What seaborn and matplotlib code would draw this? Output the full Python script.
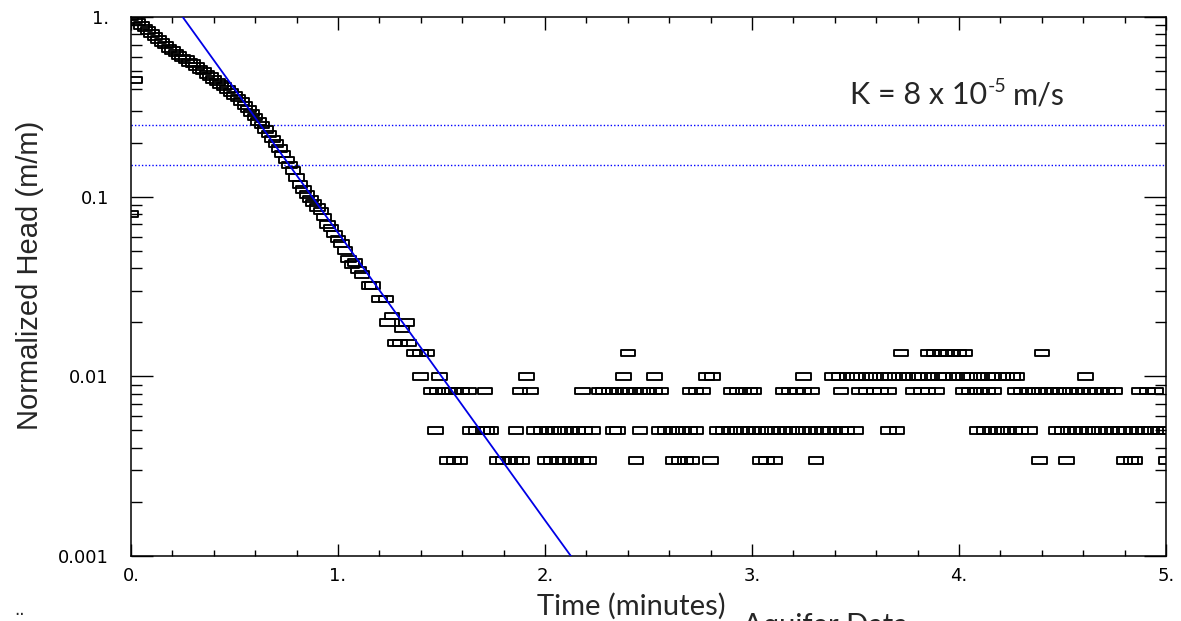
import numpy as np
import pandas as pd
import matplotlib
matplotlib.use("Agg")
import matplotlib.pyplot as plt
import seaborn as sns
from matplotlib.path import Path
from matplotlib.ticker import MultipleLocator

# Recovery data: early decay (time in minutes, normalized head)
DECAY_TIME = [0.000, 0.017, 0.033, 0.050, 0.067, 0.083, 0.100, 0.117, 0.133, 0.150,
              0.167, 0.183, 0.200, 0.217, 0.233, 0.250, 0.267, 0.283, 0.300, 0.317,
              0.333, 0.350, 0.367, 0.383, 0.400, 0.417, 0.433, 0.450, 0.467, 0.483,
              0.500, 0.517, 0.533, 0.550, 0.567, 0.583, 0.600, 0.617, 0.633, 0.650,
              0.667, 0.683, 0.700, 0.717, 0.733, 0.750, 0.767, 0.783, 0.800, 0.817,
              0.833, 0.850, 0.867, 0.883, 0.900, 0.917, 0.933, 0.950, 0.967, 0.983,
              1.000, 1.017, 1.033, 1.050, 1.067, 1.083, 1.100, 1.117, 1.150, 1.167,
              1.200, 1.233]
DECAY_HEAD = [1.00, 0.97, 0.94, 0.90, 0.87, 0.84, 0.81, 0.78, 0.75, 0.72,
              0.70, 0.67, 0.65, 0.63, 0.61, 0.59, 0.58, 0.56, 0.55, 0.53,
              0.51, 0.50, 0.48, 0.465, 0.45, 0.435, 0.42, 0.41, 0.395, 0.38,
              0.367, 0.354, 0.338, 0.322, 0.307, 0.293, 0.278, 0.263, 0.250, 0.237,
              0.223, 0.210, 0.197, 0.185, 0.173, 0.160, 0.150, 0.140, 0.128, 0.117,
              0.110, 0.103, 0.097, 0.092, 0.087, 0.083, 0.077, 0.070, 0.067, 0.062,
              0.058, 0.055, 0.050, 0.045, 0.042, 0.043, 0.039, 0.037, 0.032, 0.032,
              0.027, 0.027]

# a few odd early readings and the end of the decay
EXTRA_TIME = [0.000, 0.020, 1.240, 1.260, 1.275, 1.300, 1.310, 1.330, 1.340]
EXTRA_HEAD = [0.080, 0.446, 0.0200, 0.0217, 0.0153, 0.0153, 0.0183, 0.0200, 0.0153]

# quantized noise floor, one list of times per head level
LEVEL_HEADS = [0.0135, 0.0100, 0.0083, 0.0050, 0.0034]

TIME_0135 = [1.37, 1.40, 1.43, 2.40, 3.72, 3.85, 3.88, 3.91, 3.94, 3.97, 4.00, 4.03, 4.40]

TIME_0100 = [1.40, 1.49, 1.91, 2.38, 2.53, 2.78, 2.81, 3.25,
             3.39, 3.42, 3.46, 3.48, 3.51, 3.55, 3.57, 3.60, 3.64, 3.66, 3.69, 3.73,
             3.75, 3.78, 3.81, 3.85, 3.87, 3.90, 3.93, 3.97, 3.99, 4.02, 4.05, 4.09,
             4.11, 4.14, 4.17, 4.21, 4.23, 4.26, 4.28, 4.61]

TIME_0083 = [1.45, 1.48, 1.51, 1.54, 1.57, 1.60, 1.63, 1.71, 1.88, 1.93, 2.18,
             2.26, 2.28, 2.31, 2.33, 2.36, 2.39, 2.41, 2.44, 2.47, 2.50, 2.53, 2.56,
             2.70, 2.73, 2.76, 2.90, 2.93, 2.96, 2.99, 3.01,
             3.15, 3.18, 3.21, 3.25, 3.29, 3.43,
             3.52, 3.55, 3.59, 3.62, 3.66, 3.78, 3.82, 3.85, 3.89,
             4.02, 4.05, 4.08, 4.11, 4.14, 4.17,
             4.27, 4.30, 4.33, 4.36, 4.39, 4.42, 4.45, 4.48, 4.51, 4.54, 4.57, 4.60,
             4.63, 4.66, 4.69, 4.72, 4.75, 4.87, 4.91, 4.95]

TIME_0050 = [1.47, 1.64, 1.67, 1.70, 1.72, 1.74, 1.86,
             1.95, 1.98, 2.01, 2.04, 2.07, 2.10, 2.13, 2.16, 2.19, 2.23,
             2.33, 2.35, 2.46, 2.55, 2.58, 2.61, 2.64, 2.67, 2.70, 2.73,
             2.83, 2.86, 2.89, 2.92, 2.95, 2.98, 3.01, 3.04, 3.07, 3.10, 3.13, 3.16,
             3.19, 3.22, 3.25, 3.28, 3.31, 3.34, 3.37, 3.40, 3.43, 3.46, 3.50,
             3.66, 3.70, 4.09, 4.12, 4.15, 4.18, 4.21, 4.24, 4.27, 4.30, 4.34,
             4.47, 4.50, 4.53, 4.56, 4.59, 4.62, 4.65, 4.68, 4.71, 4.74, 4.77, 4.80,
             4.83, 4.86, 4.89, 4.92, 4.95, 4.97, 5.00]

TIME_0034 = [1.53, 1.56, 1.59, 1.77, 1.80, 1.83, 1.86, 1.89,
             2.00, 2.03, 2.06, 2.09, 2.12, 2.15, 2.18, 2.21, 2.44,
             2.62, 2.65, 2.68, 2.71, 2.80, 3.04, 3.07, 3.11, 3.31,
             4.39, 4.52, 4.80, 4.83, 4.85, 5.00]

# straight-line fit (K = 8e-5 m/s)
FIT_TIME = [0.0, 0.5, 1.0, 1.5, 2.0, 2.2]
FIT_HEAD = [2.51, 0.398, 0.063, 0.0100, 0.00158, 0.00076]

# screening band
BAND_HEADS = [0.25, 0.15]

X_TICKS = [0, 1, 2, 3, 4, 5]
X_LABELS = ["0.", "1.", "2.", "3.", "4.", "5."]
Y_TICKS = [0.001, 0.01, 0.1, 1]
Y_LABELS = ["0.001", "0.01", "0.1", "1."]


def build_table():
    times = DECAY_TIME + EXTRA_TIME
    heads = DECAY_HEAD + EXTRA_HEAD
    for level, tlist in zip(LEVEL_HEADS, [TIME_0135, TIME_0100, TIME_0083, TIME_0050, TIME_0034]):
        times = times + tlist
        heads = heads + [level] * len(tlist)
    return pd.DataFrame({"time": times, "head": heads})


def main():
    sns.set_style("ticks")
    plt.rcParams["font.family"] = ["DejaVu Sans"]

    df = build_table()
    fit = pd.DataFrame({"time": FIT_TIME, "head": FIT_HEAD})

    fig = plt.figure(figsize=(11.81, 6.21), dpi=100)
    ax = fig.add_axes([0.1109, 0.1047, 0.8764, 0.8679])

    # wide open rectangle marker
    box = Path([(-1, -0.45), (1, -0.45), (1, 0.45), (-1, 0.45), (-1, -0.45)],
               [Path.MOVETO, Path.LINETO, Path.LINETO, Path.LINETO, Path.CLOSEPOLY])

    for h in BAND_HEADS:
        ax.axhline(h, color="#0000ff", lw=1.0, ls=(0, (1, 1.5)), zorder=1)

    sns.scatterplot(data=df, x="time", y="head", ax=ax, marker=box, s=110,
                    facecolor="none", edgecolor="black", linewidth=1.35, zorder=2)
    sns.lineplot(data=fit, x="time", y="head", ax=ax, color="#0000e6", lw=1.3, zorder=3)

    ax.set_yscale("log")
    ax.set_xlim(0, 5)
    ax.set_ylim(0.001, 1)
    ax.set_xticks(X_TICKS, X_LABELS)
    ax.set_yticks(Y_TICKS, Y_LABELS)
    ax.xaxis.set_minor_locator(MultipleLocator(0.2))
    ax.set_xlabel("")
    ax.set_ylabel("")

    for s in ax.spines.values():
        s.set_visible(True)
        s.set_linewidth(1.1)
        s.set_color("black")

    ax.tick_params(axis="both", which="both", direction="in", top=True, right=True,
                   width=1.0, colors="black", labelsize=13)
    ax.tick_params(axis="x", which="major", length=9, pad=8)
    ax.tick_params(axis="x", which="minor", length=4)
    ax.tick_params(axis="y", which="major", length=16, pad=16)
    ax.tick_params(axis="y", which="minor", length=8)

    W, H = 1181, 621
    fig.text(30 / W, 1 - 275 / H, "Normalized Head (m/m)", rotation=90,
             ha="center", va="center", fontsize=21, family=["Liberation Sans"])
    fig.text(631 / W, 1 - 615 / H, "Time (minutes)", ha="center", va="baseline",
             fontsize=21, family=["Lato"])
    fig.text(743 / W, 1 - 634 / H, "Aquifer Data", ha="left", va="baseline",
             fontsize=21, family=["Lato"])
    fig.text(20 / W, 1 - 615 / H, "..", ha="center", va="baseline", fontsize=12)

    # K annotation with a small raised "-5"
    renderer = fig.canvas.get_renderer()
    k1 = fig.text(850 / W, 1 - 104 / H, "K = 8 x 10", ha="left", va="baseline",
                  fontsize=22, family=["Lato"])
    x1 = k1.get_window_extent(renderer).x1 / W
    k2 = fig.text(x1 + 1 / W, 1 - 92 / H, "-5", ha="left", va="baseline",
                  fontsize=14, family=["Lato"])
    x2 = k2.get_window_extent(renderer).x1 / W
    fig.text(x2 + 6 / W, 1 - 104 / H, "m/s", ha="left", va="baseline",
             fontsize=22, family=["Lato"])

    fig.savefig("out.png", dpi=100)
    plt.close(fig)


if __name__ == "__main__":
    main()
